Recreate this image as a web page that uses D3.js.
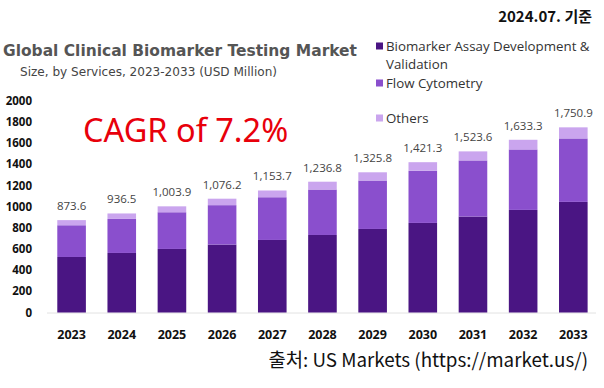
<!DOCTYPE html>
<html>
<head>
<meta charset="UTF-8" />
<title>Global Clinical Biomarker Testing Market</title>
<script src="https://d3js.org/d3.v7.min.js"></script>
<style>
  body { margin: 0; background: #fff; }
  svg { display: block; font-family: "Open Sans", "Noto Sans", sans-serif; }
</style>
</head>
<body>
<script>
var years = ["2023","2024","2025","2026","2027","2028","2029","2030","2031","2032","2033"];
var assay = [525, 563, 601, 642, 686, 733, 790, 847, 907, 970, 1046];
var flow = [300, 322, 347, 373, 404, 430, 458, 493, 531, 572, 600];
var others = [48.6, 51.5, 55.9, 61.2, 63.7, 73.8, 77.8, 81.3, 85.6, 91.3, 104.9];
var totals = ["873.6","936.5","1,003.9","1,076.2","1,153.7","1,236.8","1,325.8","1,421.3","1,523.6","1,633.3","1,750.9"];
var yTicks = [0, 200, 400, 600, 800, 1000, 1200, 1400, 1600, 1800, 2000];
var seriesNames = ["Biomarker Assay Development & Validation", "Flow Cytometry", "Others"];
var colors = ["#4a1583", "#8a4fcd", "#caa5ee"];

var width = 604, height = 388;
var svg = d3.select("body").append("svg").attr("width", width).attr("height", height);

var x = d3.scaleBand().domain(years).range([46.5, 598.4]).paddingInner(0.43).paddingOuter(0.215);
var y = d3.scaleLinear().domain([0, 2000]).range([312.5, 101]);

var rows = years.map(function(yr, i) {
  return { year: yr, a: assay[i], f: flow[i], o: others[i], label: totals[i] };
});
var stack = d3.stack().keys(["a", "f", "o"])(rows);

// baseline
svg.append("line")
  .attr("x1", 47).attr("x2", 596)
  .attr("y1", y(0) + 0.5).attr("y2", y(0) + 0.5)
  .attr("stroke", "#e2e2e2").attr("stroke-width", 1);

svg.selectAll("g.layer").data(stack).enter().append("g")
  .attr("class", "layer")
  .attr("fill", function(d, i) { return colors[i]; })
  .selectAll("rect").data(function(d) { return d; }).enter().append("rect")
  .attr("x", function(d) { return x(d.data.year); })
  .attr("width", x.bandwidth())
  .attr("y", function(d) { return y(d[1]); })
  .attr("height", function(d) { return y(d[0]) - y(d[1]); });

// value labels
svg.selectAll("text.val").data(rows).enter().append("text")
  .attr("class", "val")
  .attr("x", function(d) { return x(d.year) + x.bandwidth() / 2; })
  .attr("y", function(d) { return y(d.a + d.f + d.o) - 10; })
  .attr("text-anchor", "middle")
  .attr("font-size", 11.5).attr("fill", "#444")
  .text(function(d) { return d.label; });

// y axis labels
svg.selectAll("text.ytick").data(yTicks).enter().append("text")
  .attr("class", "ytick")
  .attr("x", 32).attr("y", function(d) { return y(d) + 4; })
  .attr("text-anchor", "end")
  .attr("font-size", 11.5).attr("font-weight", "bold").attr("fill", "#111")
  .text(function(d) { return d; });

// x axis labels
svg.selectAll("text.xtick").data(years).enter().append("text")
  .attr("class", "xtick")
  .attr("x", function(d) { return x(d) + x.bandwidth() / 2; })
  .attr("y", 339)
  .attr("text-anchor", "middle")
  .attr("font-size", 12.5).attr("font-weight", "bold").attr("fill", "#111")
  .text(function(d) { return d; });

// titles
svg.append("text").attr("x", 3).attr("y", 56)
  .attr("font-family", "'DejaVu Sans', sans-serif")
  .attr("font-size", 15).attr("font-weight", "bold").attr("fill", "#555")
  .attr("textLength", 354).attr("lengthAdjust", "spacingAndGlyphs")
  .text("Global Clinical Biomarker Testing Market");
svg.append("text").attr("x", 20).attr("y", 76)
  .attr("font-family", "'DejaVu Sans', sans-serif")
  .attr("font-size", 12).attr("fill", "#444")
  .attr("textLength", 257).attr("lengthAdjust", "spacingAndGlyphs")
  .text("Size, by Services, 2023-2033 (USD Million)");

// legend
var legendItems = [
  { lines: ["Biomarker Assay Development &", "Validation"], y: 46, c: colors[0] },
  { lines: ["Flow Cytometry"], y: 83, c: colors[1] },
  { lines: ["Others"], y: 118, c: colors[2] }
];
var lg = svg.selectAll("g.leg").data(legendItems).enter().append("g").attr("class", "leg");
lg.append("rect").attr("x", 376).attr("y", function(d) { return d.y - 3.5; })
  .attr("width", 7).attr("height", 7).attr("fill", function(d) { return d.c; });
lg.each(function(d) {
  var g = d3.select(this);
  d.lines.forEach(function(t, k) {
    g.append("text").attr("x", 386).attr("y", d.y + 4.5 + k * 18)
      .attr("font-size", 13.3).attr("fill", "#333").text(t);
  });
});

// annotations
svg.append("text").attr("x", 83).attr("y", 142)
  .attr("font-family", "'Noto Sans', sans-serif")
  .attr("font-size", 32.5).attr("fill", "#e8000b")
  .text("CAGR of 7.2%");
svg.append("text").attr("x", 592).attr("y", 22).attr("text-anchor", "end")
  .attr("font-family", "'Noto Sans CJK KR', 'Noto Sans', sans-serif")
  .attr("font-size", 15).attr("font-weight", "bold").attr("fill", "#111")
  .text("2024.07. 기준");
svg.append("text").attr("x", 588).attr("y", 367).attr("text-anchor", "end")
  .attr("font-family", "'Noto Sans CJK KR', 'Noto Sans', sans-serif")
  .attr("font-size", 18.8).attr("fill", "#111")
  .text("출처: US Markets (https://market.us/)");
</script>
</body>
</html>
